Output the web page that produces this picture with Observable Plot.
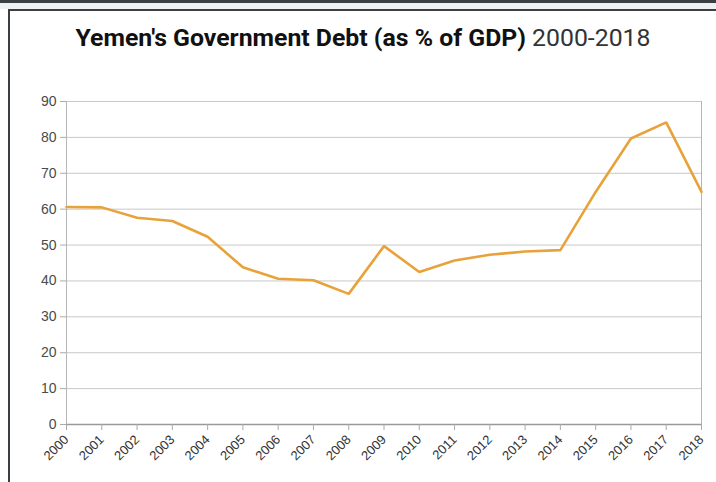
<!DOCTYPE html>
<html>
<head>
<meta charset="utf-8">
<script src="https://cdn.jsdelivr.net/npm/d3@7"></script>
<script src="https://cdn.jsdelivr.net/npm/@observablehq/plot@0.6"></script>
<style>
  html, body { margin: 0; padding: 0; background: #fff; width: 716px; height: 482px; overflow: hidden; }
  #topbar { position: absolute; left: 0; top: 0; width: 716px; height: 3px; background: #3a3f44; }
  #topgap { position: absolute; left: 0; top: 3px; width: 716px; height: 6px; background: #eef0f1; }
  #frame { position: absolute; left: 8px; top: 9px; width: 708px; height: 473px;
           border-left: 2px solid #3a3f44; border-top: 2px solid #3a3f44; box-sizing: border-box; background: #fff; }
  #title { height: 49px; box-sizing: border-box; padding-top: 12px; text-align: center;
           font-family: Roboto, "Liberation Sans", sans-serif; font-size: 24.8px; color: #111; white-space: nowrap; }
  #title b { font-weight: 700; }
  #title span { font-weight: 400; color: #333; }
  #chart svg { display: block; }
  #chart svg g[aria-label="y-axis tick label"] text { font-size: 14px; }
  #chart svg g[aria-label="x-axis tick label"] text { font-size: 13px; }
</style>
</head>
<body>
<div id="topbar"></div>
<div id="topgap"></div>
<div id="frame">
  <div id="title"><b>Yemen's Government Debt (as % of GDP)</b> <span>2000-2018</span></div>
  <div id="chart"></div>
</div>
<script>
const years = [2000, 2001, 2002, 2003, 2004, 2005, 2006, 2007, 2008, 2009, 2010, 2011, 2012, 2013, 2014, 2015, 2016, 2017, 2018];
const debt  = [60.6, 60.5, 57.6, 56.7, 52.3, 43.8, 40.6, 40.2, 36.4, 49.7, 42.5, 45.7, 47.3, 48.2, 48.6, 64.8, 79.7, 84.2, 64.8];
const yTicks = [0, 10, 20, 30, 40, 50, 60, 70, 80, 90];

const data = years.map((y, i) => ({year: y, value: debt[i]}));

const chart = Plot.plot({
  width: 706,
  height: 422,
  marginLeft: 56,
  marginRight: 15,
  marginTop: 41,
  marginBottom: 58,
  style: {fontFamily: "'Liberation Sans', Arial, sans-serif", color: "#555", background: "#fff"},
  x: {type: "linear", domain: [2000, 2018]},
  y: {domain: [0, 90]},
  marks: [
    Plot.gridY(yTicks.filter(d => d > 0), {stroke: "#c8c8c8", strokeOpacity: 1, strokeWidth: 1}),
    Plot.ruleX([2000, 2018], {stroke: "#b5b5b5", strokeWidth: 1}),
    Plot.ruleY([0], {stroke: "#9a9a9a", strokeWidth: 1.5}),
    Plot.axisY({ticks: yTicks, tickSize: 6, tickPadding: 4, stroke: "#aaa", fill: "#4a4a4a", label: null}),
    Plot.axisX({ticks: years, tickFormat: d => String(d), tickSize: 6, tickPadding: 7, tickRotate: -45,
                stroke: "#aaa", fill: "#333", label: null}),
    Plot.line(data, {x: "year", y: "value", stroke: "#e8a23a", strokeWidth: 2.6, strokeLinejoin: "miter"})
  ]
});
document.getElementById("chart").appendChild(chart);
</script>
</body>
</html>
